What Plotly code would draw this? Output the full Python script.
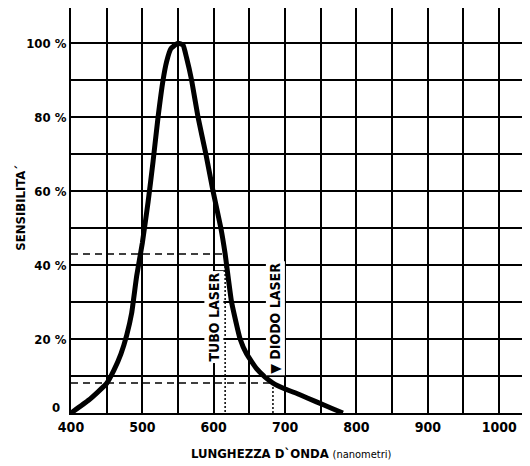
import plotly.graph_objects as go

# sensitivity curve
wavelength = [400, 425, 450, 460, 470, 478, 485, 492, 500, 508, 515, 522, 529, 534, 540, 550,
              557, 562, 569, 578, 589, 599, 610, 616, 625, 637, 646, 660, 672, 683, 700, 720,
              744, 765, 781]
sensitivity = [0, 3.5, 8, 11.5, 16, 21, 27, 37, 46, 57, 68, 80, 90, 95, 98.5, 100,
               99.5, 96, 90, 80, 70, 60, 50, 43, 30, 20, 16, 12, 9.7, 8.1, 6.5, 5,
               3, 1.3, 0]

# laser markers
tube_nm, tube_level = 616, 43
diode_nm, diode_level = 683, 8.1

x_ticks = [400, 500, 600, 700, 800, 900, 1000]
y_ticks = [20, 40, 60, 80, 100]
y_labels = ["20 %", "40 %", "60 %", "80 %", "100 %"]

FONT = "DejaVu Sans Condensed, DejaVu Sans, sans-serif"


def bold(size):
    return dict(family=FONT, size=size, color="black", weight="bold")


fig = go.Figure()

dash = dict(color="black", width=1.5, dash="7px,5px")
for nm, lvl in [(tube_nm, tube_level), (diode_nm, diode_level)]:
    fig.add_trace(go.Scatter(x=[400, nm], y=[lvl, lvl], mode="lines", line=dash,
                             hoverinfo="skip"))
    fig.add_trace(go.Scatter(x=[nm, nm], y=[lvl, 0], mode="lines",
                             line=dict(color="black", width=1.5, dash="2px,2px"),
                             hoverinfo="skip"))

fig.add_trace(go.Scatter(x=wavelength, y=sensitivity, mode="lines",
                         line=dict(color="black", width=5, shape="spline", smoothing=0.4)))

# TUBO LASER label with leader
fig.add_trace(go.Scatter(x=[600, tube_nm], y=[38.4, 38.4], mode="lines",
                         line=dict(color="black", width=1.5), hoverinfo="skip"))
fig.add_annotation(x=600, y=26, text="TUBO LASER", textangle=-90, showarrow=False,
                   bgcolor="white", borderpad=1, font=bold(14))
fig.add_annotation(x=diode_nm + 3, y=25.5, text="▼ DIODO LASER", textangle=-90, showarrow=False,
                   bgcolor="white", borderpad=1, font=bold(14))

# the "0" label sits a little above the bottom line
fig.add_annotation(x=0, y=0, xref="paper", yref="y", xanchor="right", yanchor="middle",
                   xshift=-9, yshift=6, showarrow=False, text="0", font=bold(13))

fig.add_annotation(x=0.488, y=-0.1, xref="paper", yref="paper", xanchor="center", yanchor="middle",
                   showarrow=False,
                   text="<b>LUNGHEZZA D`ONDA</b> <span style='font-size:11px'>(nanometri)</span>",
                   font=dict(family=FONT, size=13, color="black"))
fig.add_annotation(x=-0.135, y=0.506, xref="paper", yref="paper", textangle=-90, showarrow=False,
                   text="SENSIBILITA´", font=bold(13))

# the page body adds an 8px offset, so the figure is sized to fit the window
fig.update_layout(
    width=514, height=458,
    margin=dict(l=63, r=0, t=0, b=53, autoexpand=False),
    paper_bgcolor="white", plot_bgcolor="white",
    showlegend=False,
    font=dict(family=FONT, color="black"),
    xaxis=dict(range=[400, 1032], tickvals=x_ticks, ticks="", showgrid=True,
               gridcolor="black", gridwidth=1.5, zeroline=False,
               minor=dict(tickvals=[450, 550, 650, 750, 850, 950], showgrid=True,
                          gridcolor="black", gridwidth=1.5),
               showline=True, linecolor="black", linewidth=2, mirror=True,
               tickfont=bold(14)),
    yaxis=dict(range=[0, 109.5], tickvals=y_ticks, ticktext=y_labels, ticks="",
               showgrid=True, gridcolor="black", gridwidth=1.5, zeroline=False,
               minor=dict(tickvals=[10, 30, 50, 70, 90], showgrid=True,
                          gridcolor="black", gridwidth=1.5),
               showline=True, linecolor="black", linewidth=2, mirror=False,
               tickfont=bold(13)),
)

fig.write_html("out.html")
